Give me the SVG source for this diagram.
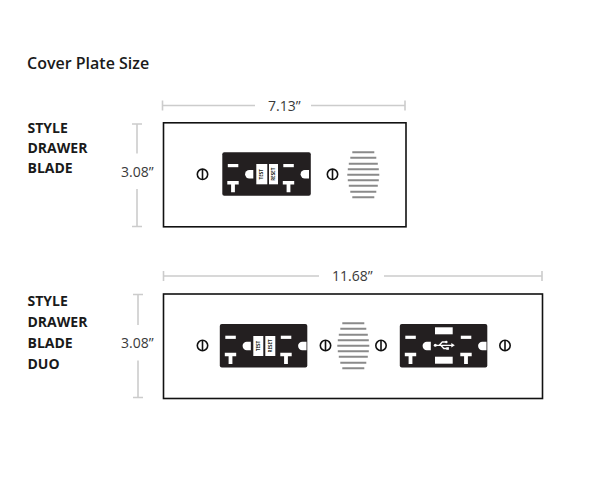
<svg xmlns="http://www.w3.org/2000/svg" width="600" height="477" viewBox="0 0 600 477">
<style>
text{font-family:"Open Sans","Noto Sans","Liberation Sans",sans-serif;fill:#1a1a1a}
.t{font-size:16px;font-weight:600}
.l{font-size:14px;font-weight:700}
.d{font-size:14px;fill:#3a3a3a}
.m{font-size:4.500px;font-weight:700;fill:#231f20;text-anchor:middle}
.plate{fill:#fff;stroke:#111;stroke-width:1.6}
.dim{stroke:#ccc;stroke-width:1.6;fill:none}
.body{fill:#231f20}
.w{fill:#fff}
.sc{fill:none;stroke:#111;stroke-width:1.600}
.gr{stroke:#8a8a8a;stroke-width:2;fill:none}
</style>
<defs>
<g id="screw"><circle r="5.200" class="sc"/><path d="M0-5.200V5.200" class="sc"/></g>
<g id="grille" class="gr">
<path d="M-11-22.500H11M-13-17H13M-14.500-11H14.500M-15.500-5.500H15.500M-16 0H16M-15.500 5.500H15.500M-14.500 11H14.500M-13 17H13M-11 22.500H11"/>
</g>
<g id="plugs">
<rect x="5.500" y="11.700" width="10.500" height="3.200" class="w"/>
<path d="M5 28.800H16.400V32.200H12.600V40H8.800V32.200H5Z" class="w"/>
<path d="M31 17.800H27A4.200 4.200 0 0 0 27 26.200H31Z" class="w"/>
<rect x="61" y="11.700" width="10.500" height="3.200" class="w"/>
<path d="M60.500 28.800H71.900V32.200H68.100V40H64.300V32.200H60.500Z" class="w"/>
<path d="M86.700 17.800H82.500A4.200 4.200 0 0 0 82.500 26.200H86.700Z" class="w"/>
</g>
</defs>
<text x="27" y="69" class="t">Cover Plate Size</text>
<g id="connectors">
<path class="dim" d="M162.500 100.500V110.500M162.500 105.500H255M311 105.500H405M405 100.500V110.500"/>
<path class="dim" d="M132 124H142M137 124V153.500M137 189V226.500M132 226.500H142"/>
<path class="dim" d="M163.500 271V281M163.500 276H319M384 276H542M542 271V281"/>
<path class="dim" d="M133 294.500H143M138 294.500V325M138 360.500V397.500M133 397.500H143"/>
</g>
<g id="label-top"><text x="268" y="111" class="d">7.13”</text><text x="121" y="176.500" class="d">3.08”</text>
<text x="27.500" y="132.500" class="l">STYLE</text><text x="27.500" y="152.800" class="l">DRAWER</text><text x="27.500" y="173" class="l">BLADE</text></g>
<g id="label-bottom"><text x="332" y="281" class="d">11.68”</text><text x="121" y="347.500" class="d">3.08”</text>
<text x="27.500" y="305.700" class="l">STYLE</text><text x="27.500" y="326.700" class="l">DRAWER</text><text x="27.500" y="347.700" class="l">BLADE</text><text x="27.500" y="368.700" class="l">DUO</text></g>
<g id="plate-top"><rect x="163.500" y="122.800" width="242.500" height="104" class="plate"/></g>
<g id="plate-bottom"><rect x="163.500" y="294" width="379" height="104.500" class="plate"/></g>
<g id="outlet-top" transform="translate(222.300 152.300)">
<rect width="88.500" height="43.500" rx="2" class="body"/>
<use href="#plugs"/>
<rect x="34" y="11.700" width="11" height="20.300" class="w"/><rect x="46.700" y="11.700" width="9" height="20.300" class="w"/>
<text transform="translate(41 22) rotate(-90)" class="m">TEST</text><text transform="translate(52.800 22) rotate(-90)" class="m">RESET</text>
</g>
<g id="screw-1"><use href="#screw" x="202.500" y="174.300"/></g>
<g id="screw-2"><use href="#screw" x="332.500" y="174.300"/></g>
<g id="grille-top"><use href="#grille" x="363.300" y="174.700"/></g>
<g id="outlet-bottom" transform="translate(219.800 324)">
<rect width="87.500" height="43.500" rx="2" class="body"/>
<use href="#plugs"/>
<rect x="33.500" y="12" width="10" height="20" class="w"/><rect x="45.500" y="12" width="10" height="20" class="w"/>
<text transform="translate(40 22) rotate(-90)" class="m">TEST</text><text transform="translate(52 22) rotate(-90)" class="m">RESET</text>
</g>
<g id="screw-3"><use href="#screw" x="202.500" y="345.500"/></g>
<g id="screw-4"><use href="#screw" x="325.500" y="345.500"/></g>
<g id="grille-bottom"><use href="#grille" x="353.300" y="345.800"/></g>
<g id="screw-5"><use href="#screw" x="381" y="345.500"/></g>
<g id="usb-outlet" transform="translate(399.800 324)">
<rect width="87.500" height="43.500" rx="2" class="body"/>
<use href="#plugs"/>
<rect x="35.200" y="3.300" width="17.700" height="7" class="w"/><rect x="35.200" y="32.700" width="17.700" height="7" class="w"/>
<path d="M35 21.300H53M39.500 21.300L42.500 18H46M41 21.300L44 24.500H47" stroke="#fff" stroke-width="1.300" fill="none"/>
<path d="M51.500 19L55 21.300L51.500 23.600Z" class="w"/><circle cx="35.500" cy="21.300" r="1.500" class="w"/><circle cx="46.500" cy="18" r="1.300" class="w"/><rect x="46.500" y="23.200" width="2.600" height="2.600" class="w"/>
</g>
<g id="screw-6"><use href="#screw" x="505" y="345.500"/></g>
</svg>
